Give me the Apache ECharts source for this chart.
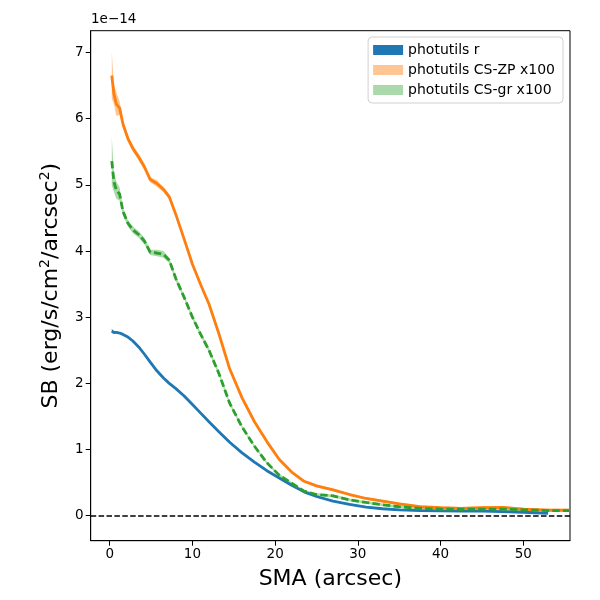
<!DOCTYPE html>
<html>
<head>
<meta charset="UTF-8">
<title>SB profile</title>
<script src="https://cdn.jsdelivr.net/npm/echarts@6/dist/echarts.min.js"></script>
<style>
  html, body { margin: 0; padding: 0; background: #fff; }
  #chart { width: 600px; height: 600px; }
</style>
</head>
<body>
<div id="chart"></div>
<script>
// semi-major axis (arcsec)
var sma = [0.25, 0.5, 0.8, 1.2, 1.6, 2.2, 2.8, 3.5, 4.2, 4.9, 5.7, 6.5, 7.2, 8.0, 9.0, 10.0,
  11.0, 12.0, 13.2, 14.5, 16.0, 17.5, 19.0, 20.5, 22.0, 23.5, 25.0, 27.0, 29.0, 31.0,
  33.0, 35.0, 37.5, 40.0, 42.5, 45.0, 47.5, 50.0, 53.0, 55.6];

// surface brightness, units of 1e-14 erg/s/cm2/arcsec2
var sbR = [2.79, 2.77, 2.77, 2.76, 2.74, 2.70, 2.64, 2.55, 2.44, 2.32, 2.19, 2.08, 2.00, 1.92, 1.81, 1.68,
  1.55, 1.42, 1.27, 1.11, 0.95, 0.81, 0.68, 0.57, 0.46, 0.36, 0.29, 0.22, 0.17, 0.13,
  0.105, 0.087, 0.077, 0.072, 0.07, 0.07, 0.062, 0.052, 0.036];
var errR = [0.03, 0.02, 0.015, 0.01, 0.01, 0.01, 0.01, 0.01, 0.01, 0.01, 0.01, 0.01, 0.01, 0.01, 0.01, 0.01,
  0.01, 0.01, 0.01, 0.01, 0.01, 0.01, 0.01, 0.01, 0.01, 0.01, 0.01, 0.01, 0.01, 0.01,
  0.01, 0.01, 0.01, 0.01, 0.01, 0.01, 0.01, 0.01, 0.01];

var sbZP = [6.65, 6.38, 6.22, 6.16, 5.92, 5.70, 5.55, 5.42, 5.27, 5.08, 5.02, 4.93, 4.82, 4.55, 4.18, 3.80,
  3.49, 3.20, 2.75, 2.22, 1.78, 1.42, 1.12, 0.85, 0.66, 0.52, 0.45, 0.39, 0.32, 0.26,
  0.22, 0.18, 0.135, 0.12, 0.11, 0.12, 0.125, 0.10, 0.085, 0.085];
var errZP = [0.35, 0.15, 0.18, 0.10, 0.06, 0.05, 0.05, 0.05, 0.05, 0.04, 0.05, 0.04, 0.04, 0.03, 0.03, 0.03,
  0.03, 0.03, 0.03, 0.03, 0.02, 0.02, 0.02, 0.02, 0.02, 0.02, 0.02, 0.02, 0.02, 0.02,
  0.02, 0.02, 0.02, 0.02, 0.02, 0.02, 0.02, 0.02, 0.02, 0.02];

var sbGR = [5.36, 5.05, 4.92, 4.86, 4.60, 4.42, 4.32, 4.25, 4.15, 3.98, 3.97, 3.95, 3.86, 3.58, 3.30, 3.00,
  2.74, 2.50, 2.15, 1.70, 1.34, 1.05, 0.80, 0.61, 0.49, 0.37, 0.32, 0.30, 0.24, 0.20,
  0.165, 0.135, 0.11, 0.10, 0.097, 0.10, 0.10, 0.088, 0.078, 0.076];
var errGR = [0.37, 0.15, 0.13, 0.10, 0.06, 0.05, 0.05, 0.05, 0.05, 0.04, 0.05, 0.05, 0.04, 0.04, 0.03, 0.03,
  0.03, 0.03, 0.03, 0.03, 0.02, 0.02, 0.02, 0.02, 0.02, 0.02, 0.02, 0.02, 0.02, 0.02,
  0.02, 0.02, 0.02, 0.02, 0.02, 0.02, 0.02, 0.02, 0.02, 0.02];

var names = ['photutils r', 'photutils CS-ZP x100', 'photutils CS-gr x100'];
var FONT = 'DejaVu Sans';

function pairs(y) {
  var out = [];
  for (var i = 0; i < y.length; i++) out.push([sma[i], y[i]]);
  return out;
}

// error band drawn as one polygon through the axis scales
function band(name, y, err, color) {
  var data = [];
  for (var i = 0; i < y.length; i++) data.push([sma[i], y[i] - err[i], y[i] + err[i]]);
  return {
    name: name,
    type: 'custom',
    clip: true,
    silent: true,
    encode: { x: 0, y: [1, 2] },
    data: data,
    renderItem: function (params, api) {
      if (params.dataIndex !== 0) return null;
      var pts = [];
      for (var i = 0; i < data.length; i++) pts.push(api.coord([data[i][0], data[i][2]]));
      for (var j = data.length - 1; j >= 0; j--) pts.push(api.coord([data[j][0], data[j][1]]));
      return { type: 'polygon', shape: { points: pts }, style: { fill: color } };
    }
  };
}

function line(name, y, color, dashed) {
  return {
    name: name,
    type: 'line',
    data: pairs(y),
    showSymbol: false,
    symbol: 'none',
    silent: true,
    lineStyle: { color: color, width: 2.8, type: dashed ? [7.4, 3.2] : 'solid', cap: 'butt' },
    itemStyle: { color: color }
  };
}

var chart = echarts.init(document.getElementById('chart'));
var zero = line('zero', [], '#000', false);
zero.markLine = {
  silent: true, symbol: 'none', label: { show: false },
  lineStyle: { color: '#000', width: 1.6, type: [5.5, 2.4] },
  data: [{ yAxis: 0 }]
};

function intLabel(step) {
  return function (v) {
    var r = Math.round(v / step) * step;
    return Math.abs(v - r) < 1e-6 ? String(r) : '';
  };
}

chart.setOption({
  animation: false,
  textStyle: { fontFamily: FONT },
  grid: { left: 90.7, right: 30, top: 30.7, bottom: 59.3, show: true, borderColor: '#000', borderWidth: 1, backgroundColor: 'transparent' },
  graphic: [{
    type: 'text', left: 91, top: 12,
    style: { text: '1e\u221214', font: '13.5px "DejaVu Sans"', fill: '#000' }
  }],
  legend: {
    orient: 'vertical', right: 37, top: 37,
    itemWidth: 30, itemHeight: 10, itemGap: 6,
    padding: [6, 8, 6, 5],
    borderColor: '#d0d0d0', borderWidth: 1, borderRadius: 4,
    backgroundColor: 'rgba(255,255,255,0.8)',
    textStyle: { fontFamily: FONT, fontSize: 14, color: '#000' },
    data: [
      { name: names[0], icon: 'rect', itemStyle: { color: '#1f77b4' } },
      { name: names[1], icon: 'rect', itemStyle: { color: 'rgba(255,127,14,0.45)' } },
      { name: names[2], icon: 'rect', itemStyle: { color: 'rgba(44,160,44,0.4)' } }
    ]
  },
  xAxis: {
    type: 'value', min: -2.3, max: 55.65, splitNumber: 5,
    splitLine: { show: false },
    axisLine: { onZero: false, lineStyle: { color: '#000', width: 1 } },
    axisTick: { length: 5, lineStyle: { color: '#000' } },
    axisLabel: {
      color: '#000', fontSize: 13.5, margin: 7,
      showMinLabel: false, showMaxLabel: false,
      formatter: intLabel(10)
    },
    name: 'SMA (arcsec)', nameLocation: 'middle', nameGap: 28,
    nameTextStyle: { color: '#000', fontSize: 22 }
  },
  yAxis: {
    type: 'value', min: -0.378, max: 7.33, splitNumber: 8,
    splitLine: { show: false },
    axisLine: { show: true, onZero: false, lineStyle: { color: '#000', width: 1 } },
    axisTick: { show: true, length: 5, lineStyle: { color: '#000' } },
    axisLabel: {
      color: '#000', fontSize: 13.5, margin: 7,
      showMinLabel: false, showMaxLabel: false,
      formatter: intLabel(1)
    },
    name: 'SB (erg/s/cm{s|2}/arcsec{s|2})', nameLocation: 'middle', nameGap: 27,
    nameTextStyle: {
      color: '#000', fontSize: 22,
      rich: { s: { fontSize: 14, verticalAlign: 'top', padding: [0, 0, 11, 0], color: '#000' } }
    }
  },
  series: [
    zero,
    band(names[0], sbR, errR, '#1f77b4'),
    line(names[0], sbR, '#1f77b4', false),
    band(names[1], sbZP, errZP, 'rgba(255,127,14,0.45)'),
    line(names[1], sbZP, '#ff7f0e', false),
    band(names[2], sbGR, errGR, 'rgba(44,160,44,0.4)'),
    line(names[2], sbGR, '#2ca02c', true)
  ]
});
</script>
</body>
</html>
